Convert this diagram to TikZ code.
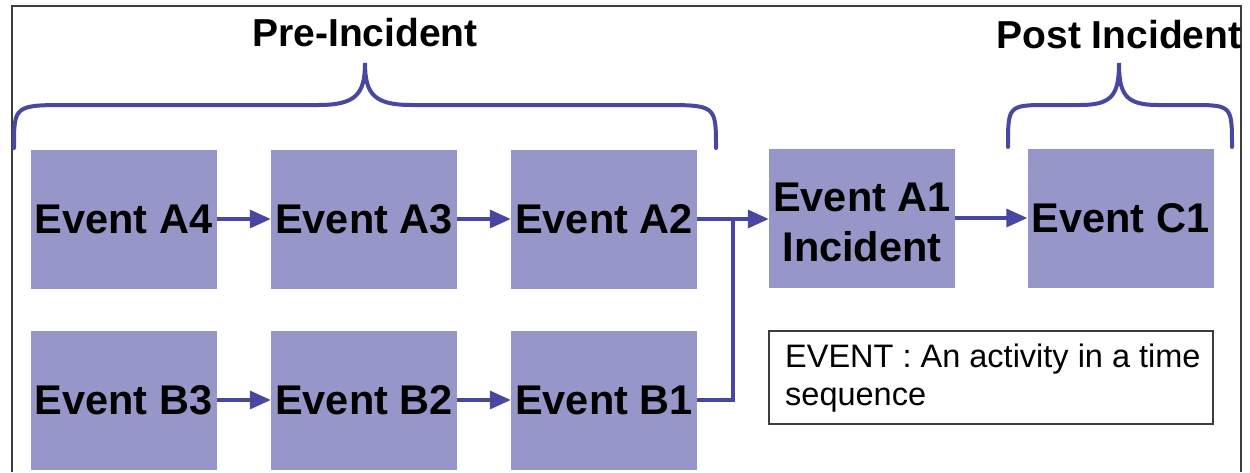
\documentclass[tikz,border=0pt]{standalone}
\usepackage{fontspec}
\setmainfont{Liberation Sans}
\usetikzlibrary{arrows.meta}
\definecolor{boxfill}{RGB}{150,150,200}
\definecolor{lineblue}{RGB}{72,72,162}
\definecolor{framegray}{RGB}{60,60,60}
\tikzset{
  evbox/.style={fill=boxfill, draw=none, minimum width=186pt, minimum height=139pt, inner sep=0pt,
    align=center, font=\bfseries\fontsize{41.5}{50}\selectfont},
  flow/.style={draw=lineblue, line width=3.5pt, -{Triangle[length=21pt,width=18pt]}},
  plain/.style={draw=lineblue, line width=3.5pt},
  bracestyle/.style={draw=lineblue, line width=4pt, line cap=round},
  header/.style={font=\bfseries\fontsize{39}{40}\selectfont, inner sep=0pt},
  frame/.style={draw=framegray, line width=1.8pt}
}
\begin{document}
\begin{tikzpicture}[x=1pt,y=-1pt]
\useasboundingbox (0,0) rectangle (1250,472);
% frame
\draw[frame] (12,472) -- (12,6) -- (1241,6) -- (1241,472);
% boxes
\node[evbox] (A4) at (123.5,219) {Event A4};
\node[evbox] (A3) at (364,219) {Event A3};
\node[evbox] (A2) at (604,219) {Event A2};
\node[evbox] (B3) at (123.5,400) {Event B3};
\node[evbox] (B2) at (364,400) {Event B2};
\node[evbox] (B1) at (604,400) {Event B1};
\node[evbox] (A1) at (862,218) {};
\node[align=center, inner sep=0pt, font=\bfseries\fontsize{41.5}{50}\selectfont] (A1txt) at (862,222) {Event A1\\Incident};
\node[evbox] (C1) at (1120.5,218) {Event C1};
% legend
\node[draw=framegray, line width=1.2pt, minimum width=444pt, minimum height=93pt, inner sep=0pt] (leg) at (991,377.5) {};
\node[anchor=north west, align=left, inner sep=0pt, font=\fontsize{32.5}{38}\selectfont] (legtxt) at (785,344) {EVENT : An activity in a time\\sequence};
% connectors
\coordinate (j) at (733,219);
\draw[flow] (A4.east) -- (A3.west);
\draw[flow] (A3.east) -- (A2.west);
\draw[flow] (B3.east) -- (B2.west);
\draw[flow] (B2.east) -- (B1.west);
\draw[flow] (A2.east) -- (A1.west |- A2.east);
\draw[plain] (B1.east) -| (j);
\draw[flow] (A1.east) -- (C1.west);
% braces
\draw[bracestyle] (14,148) .. controls (14,105) .. (70,105) -- (318,105)
  .. controls (355,105) and (365,95) .. (365,63)
  .. controls (365,95) and (375,105) .. (412,105) -- (660,105)
  .. controls (716,105) .. (716,148);
\draw[bracestyle] (1008,147) .. controls (1008,105) .. (1050,105) -- (1080,105)
  .. controls (1112,105) and (1119,95) .. (1119,63)
  .. controls (1119,95) and (1126,105) .. (1158,105) -- (1190,105)
  .. controls (1232,105) .. (1232,147);
% headers
\node[header] (pre) at (365,33) {Pre-Incident};
\node[header] (post) at (1119,35) {Post Incident};
\end{tikzpicture}
\end{document}
